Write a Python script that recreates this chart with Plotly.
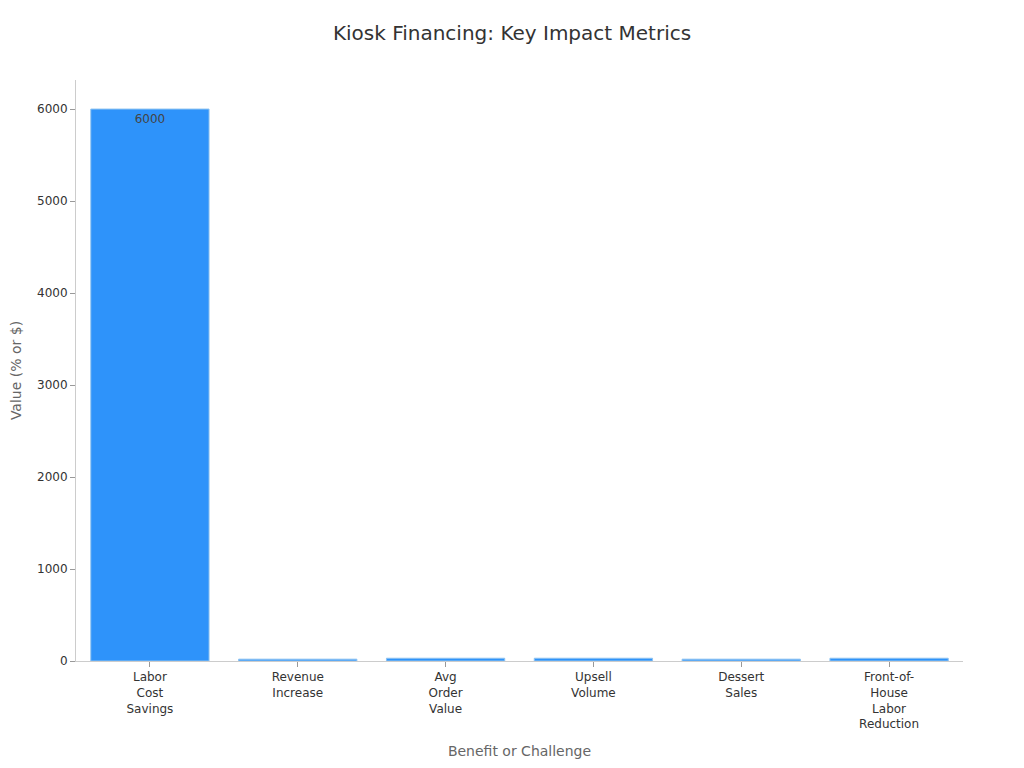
import plotly.graph_objects as go

categories = ["Labor<br>Cost<br>Savings", "Revenue<br>Increase", "Avg<br>Order<br>Value",
              "Upsell<br>Volume", "Dessert<br>Sales", "Front-of-<br>House<br>Labor<br>Reduction"]
values = [6000, 20, 30, 30, 20, 30]
labels = ["6000", "", "", "", "", ""]

fig = go.Figure(go.Bar(
    x=categories, y=values, text=labels, textposition="inside",
    insidetextanchor="end",
    textfont=dict(color="#444", size=12),
    marker=dict(color="#2E93FA", line=dict(color="#8FC3F0", width=1)),
))

fig.update_layout(
    width=1024, height=768,
    font=dict(family="DejaVu Sans", color="#333"),
    title=dict(text="Kiosk Financing: Key Impact Metrics", x=504 / 1024, xanchor="center",
               y=1 - 25 / 768, yanchor="middle", font=dict(size=20, color="#333")),
    paper_bgcolor="white", plot_bgcolor="white",
    margin=dict(l=68, r=69, t=72, b=115),
    showlegend=False,
    bargap=0.2,
)
fig.update_xaxes(title=dict(text="Benefit or Challenge", font=dict(size=14, color="#666")),
                 showline=True, linecolor="#ccc", ticks="outside", tickcolor="#999",
                 ticklen=5, tickfont=dict(size=12, color="#333"), showgrid=False,
                 automargin=False)
fig.update_yaxes(title=dict(text="Value (% or $)", font=dict(size=14, color="#666")),
                 showline=True, linecolor="#ccc", ticks="outside", tickcolor="#999",
                 ticklen=5, tickfont=dict(size=12, color="#333"), showgrid=False,
                 zeroline=False, dtick=1000, automargin=False)

fig.write_html("out.html")
